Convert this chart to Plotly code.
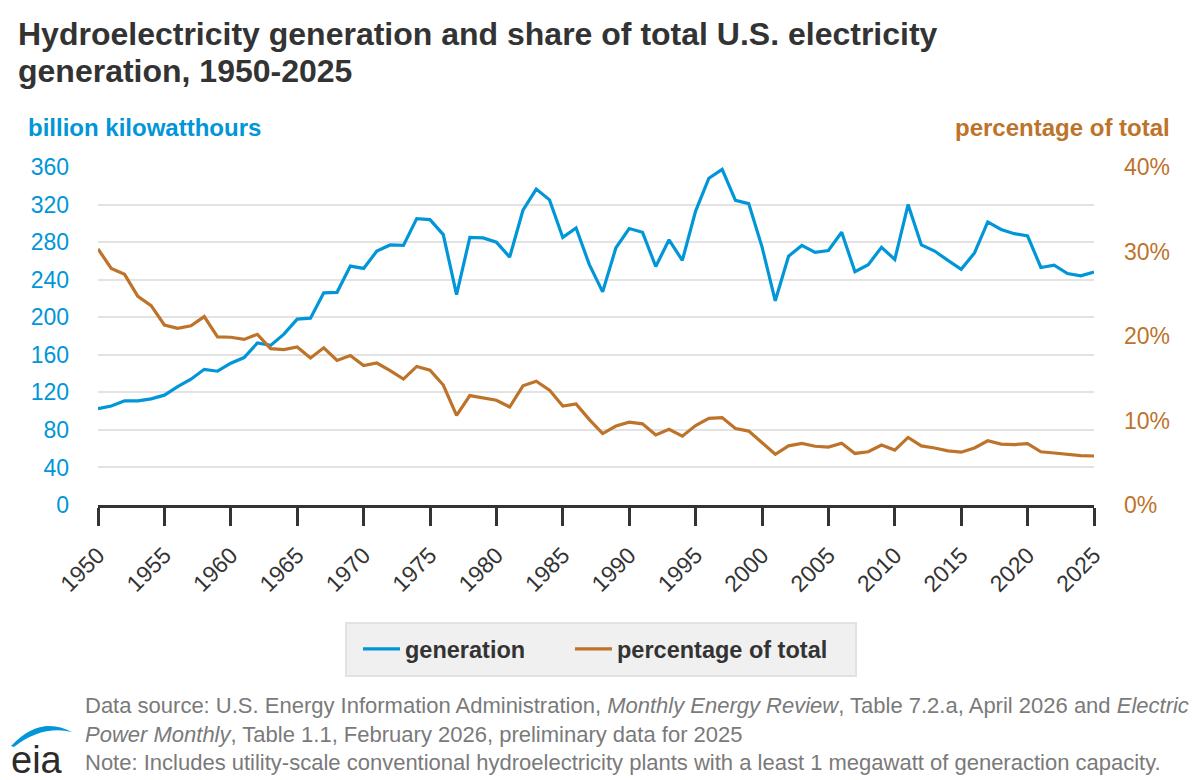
import plotly.graph_objects as go

years = list(range(1950, 2026))
generation = [102.5, 105.5, 111, 111, 113, 117, 126, 134, 144.5, 142.5,
              151, 157, 172.5, 170, 182, 198, 199, 226, 226.5, 254.5,
              252, 270.5, 277, 276.5, 305, 304, 288, 224, 285, 284.5,
              280, 264, 314, 336.5, 325, 285, 295, 256, 227, 274,
              294.5, 290.5, 254, 282.5, 260.5, 313, 348, 357.5, 324.5, 321,
              275, 217.5, 265, 276.5, 269, 271, 290.5, 248.5, 256, 274.5,
              261.5, 320, 277, 270.5, 260.5, 251, 268.5, 301.5, 293.5, 289,
              286.5, 253, 255.5, 246.5, 244, 248]
share = [30.3, 28.0, 27.3, 24.7, 23.6, 21.3, 20.9, 21.2, 22.3, 19.9,
         19.85, 19.6, 20.2, 18.5, 18.4, 18.7, 17.4, 18.6, 17.1, 17.7,
         16.5, 16.8, 15.9, 14.9, 16.4, 15.95, 14.2, 10.6, 12.95, 12.7,
         12.4, 11.6, 14.1, 14.65, 13.6, 11.7, 11.95, 10.1, 8.45, 9.35,
         9.8, 9.6, 8.3, 8.95, 8.15, 9.4, 10.25, 10.35, 9.05, 8.75,
         7.35, 6.0, 7.0, 7.3, 6.95, 6.85, 7.3, 6.1, 6.3, 7.1,
         6.5, 8.0, 7.0, 6.75, 6.4, 6.25, 6.75, 7.6, 7.2, 7.15,
         7.25, 6.3, 6.15, 6.0, 5.85, 5.8]
x_ticks = list(range(1950, 2026, 5))
left_ticks = list(range(0, 361, 40))
right_ticks = [0, 10, 20, 30, 40]

BLUE = "#0096d7"
ORANGE = "#bd732a"
DARK = "#333333"
GRAY = "#7a7a7a"
FONT = "Liberation Sans, Arial, sans-serif"

W, H = 1200, 780
ML, MR, MT, MB = 98, 106, 167, 275
PW = W - ML - MR
PH = H - MT - MB


def px(x):
    return (x - ML) / PW


def py(y):
    return (H - MB - y) / PH


fig = go.Figure()
fig.add_trace(go.Scatter(x=years, y=generation, mode="lines", name="generation",
                         legend="legend", line=dict(color=BLUE, width=3.2)))
fig.add_trace(go.Scatter(x=years, y=share, mode="lines", name="percentage of total",
                         yaxis="y2", legend="legend2", line=dict(color=ORANGE, width=3.2)))

annotations = []


def text(t, x, y, size, color, xanchor="left", bold=False):
    annotations.append(dict(
        text=f"<b>{t}</b>" if bold else t, x=px(x), y=py(y), xref="paper", yref="paper",
        xanchor=xanchor, yanchor="middle", showarrow=False,
        font=dict(family=FONT, size=size, color=color)))


text("Hydroelectricity generation and share of total U.S. electricity", 16, 34, 32, DARK, bold=True)
text("generation, 1950-2025", 16, 71.5, 32, DARK, bold=True)
text("billion kilowatthours", 26, 127, 24, BLUE, bold=True)
text("percentage of total", 1172, 127, 24, ORANGE, xanchor="right", bold=True)
text("Data source: U.S. Energy Information Administration, <i>Monthly Energy Review</i>, "
     "Table 7.2.a, April 2026 and <i>Electric</i>", 83, 705.5, 22, GRAY)
text("<i>Power Monthly</i>, Table 1.1, February 2026, preliminary data for 2025", 83, 734, 22, GRAY)
text("Note: Includes utility-scale conventional hydroelectricity plants with a least 1 megawatt "
     "of generaction capacity.", 83, 762.5, 22, GRAY)
text("eia", 9, 760, 38, "#2b2b2b")

# eia swoosh
pts_path = [("M", 11, 746), ("Q", 40, 715, 72, 732), ("Q", 42, 725, 14, 747)]
path = ""
for p in pts_path:
    s = p[0]
    coords = p[1:]
    for i in range(0, len(coords), 2):
        s += f" {px(coords[i]):.5f},{py(coords[i + 1]):.5f}"
    path += s + " "
path += "Z"

shapes = [
    dict(type="rect", xref="paper", yref="paper", x0=px(346), x1=px(856), y0=py(623), y1=py(676),
         fillcolor="#f0f0f0", line=dict(color="#e2e2e2", width=2), layer="below"),
    dict(type="path", path=path, xref="paper", yref="paper",
         fillcolor=BLUE, line=dict(width=0)),
]

legend_common = dict(orientation="h", xanchor="left", yanchor="top",
                     bgcolor="rgba(0,0,0,0)", borderwidth=0,
                     font=dict(family=FONT, size=23.5, color=DARK, weight="bold"),
                     itemwidth=37)

fig.update_layout(
    width=W, height=H,
    margin=dict(l=ML, r=MR, t=MT, b=MB, autoexpand=False),
    paper_bgcolor="white", plot_bgcolor="white",
    font=dict(family=FONT, color=DARK),
    showlegend=True,
    legend=dict(x=px(358), y=py(627), **legend_common),
    legend2=dict(x=px(570), y=py(627), **legend_common),
    xaxis=dict(range=[1950, 2025], tickvals=x_ticks, ticktext=[str(v) for v in x_ticks],
               tickangle=-45, ticks="outside", ticklen=18, tickwidth=2.5, tickcolor=DARK,
               showline=True, linecolor=DARK, linewidth=2.5, showgrid=False, zeroline=False,
               ticklabelstandoff=7,
               tickfont=dict(family=FONT, size=23, color=DARK)),
    yaxis=dict(range=[0, 360], tickvals=left_ticks, ticktext=[str(v) for v in left_ticks],
               showgrid=True, gridcolor="#e3e3e3", gridwidth=2, zeroline=False,
               showline=False, ticks="", ticklabelstandoff=28,
               tickfont=dict(family=FONT, size=23, color=BLUE)),
    yaxis2=dict(range=[0, 40], tickvals=right_ticks, ticktext=[f"{v}%" for v in right_ticks],
                overlaying="y", side="right", showgrid=False, zeroline=False,
                showline=False, ticks="", ticklabelstandoff=29,
                tickfont=dict(family=FONT, size=23, color=ORANGE)),
    annotations=annotations,
    shapes=shapes,
)

fig.write_html("out.html")
